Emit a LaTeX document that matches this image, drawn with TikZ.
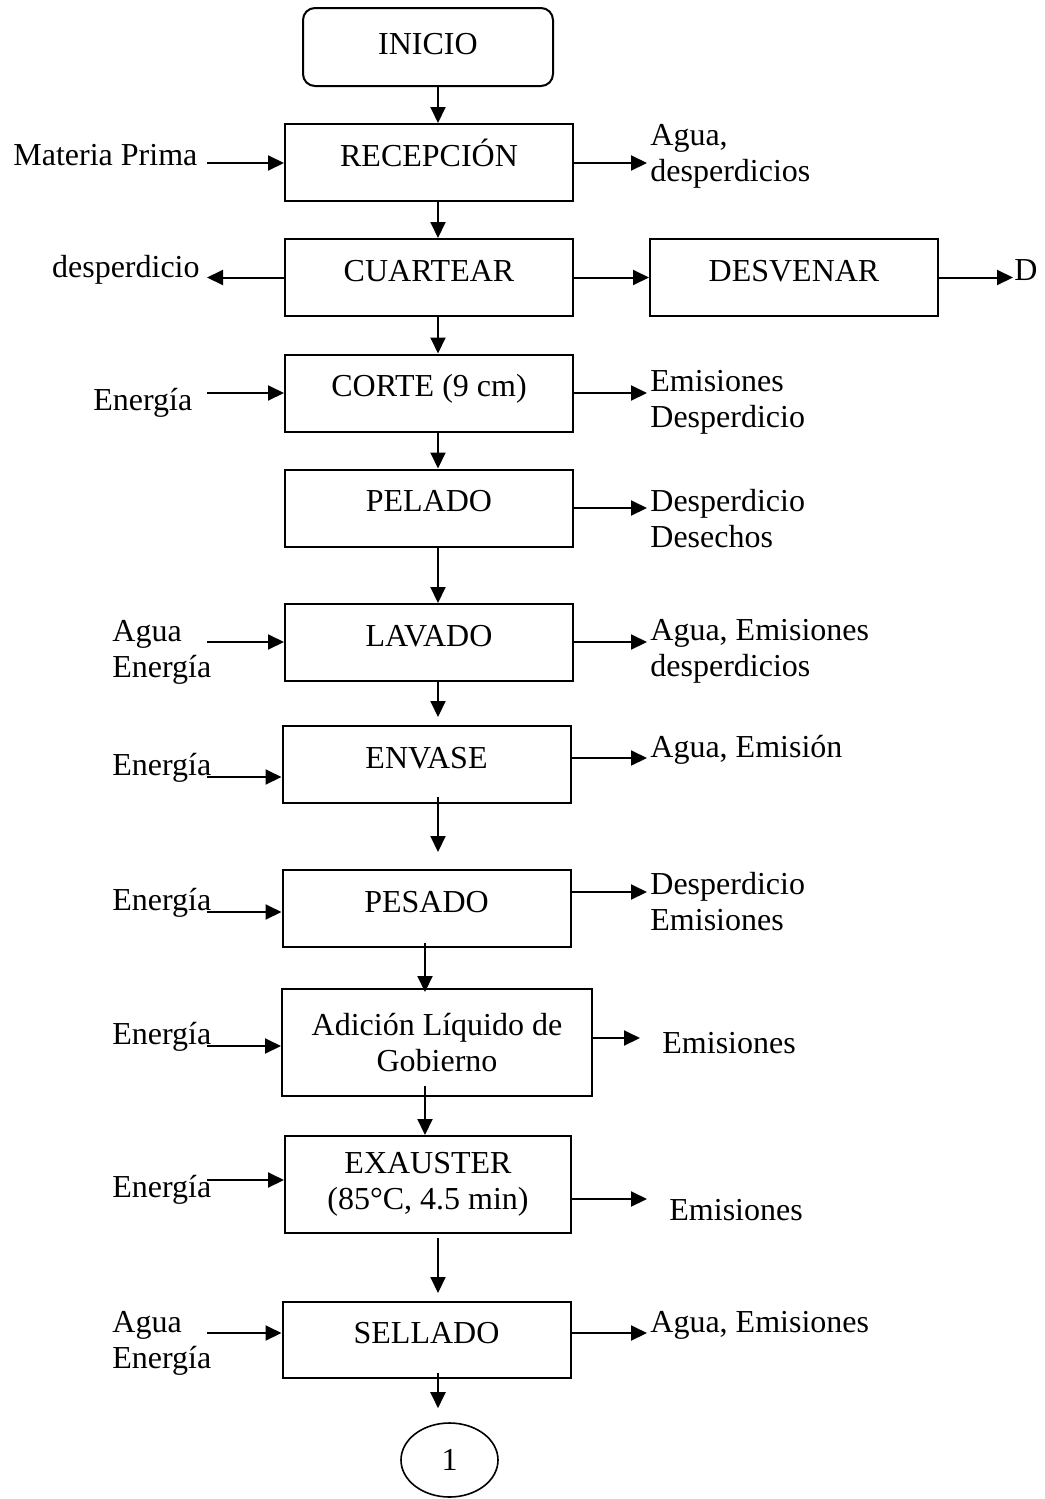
\documentclass[tikz,border=0pt]{standalone}
\usepackage{fontspec}
\setmainfont{Liberation Serif}
\usepackage{tikz}
\usetikzlibrary{calc}
\usetikzlibrary{shapes.geometric}
\usetikzlibrary{arrows.meta}

\begin{document}
\begin{tikzpicture}[x=0.5pt,y=-0.5pt,
  every node/.style={font=\fontsize{16}{18}\selectfont},
  startbox/.style={draw,line width=1pt,rounded corners=6pt,minimum width=125pt,minimum height=39pt,inner sep=0pt,text height=11pt,text depth=3.4pt},
  proc/.style={draw,line width=1pt,minimum width=144pt,minimum height=38.5pt,inner sep=0pt,text height=11pt,text depth=7.4pt},
  proctwo/.style={draw,line width=1pt,align=center,inner sep=0pt},
  lab/.style={inner sep=0pt,align=left},
  flow/.style={line width=1pt,-{Triangle[length=8pt,width=7.5pt]}}]

 \useasboundingbox (0,0) rectangle (1044,1499);

 % ================================================================
 % process boxes
 % ================================================================
	\node[startbox] (inicio) at (428,47) {INICIO};
	\node[proc] (recep)  at (429,162.5) {RECEPCIÓN};
	\node[proc] (cuart)  at (429,277.5) {CUARTEAR};
	\node[proc] (desv)   at (794,277.5) {DESVENAR};
	\node[proc] (corte)  at (429,393)   {CORTE (9 cm)};
	\node[proc] (pelado) at (429,508)   {PELADO};
	\node[proc] (lavado) at (429,642.5) {LAVADO};
	\node[proc] (envase) at (426.5,764.5) {ENVASE};
	\node[proc] (pesado) at (426.5,908.5) {PESADO};
	\node[proctwo,minimum width=155pt,minimum height=53.5pt] (adic) at (437,1042.5) {Adición Líquido de\\Gobierno};
	\node[proctwo,minimum width=143pt,minimum height=48.5pt] (exau) at (428,1184.5) {EXAUSTER\\(85°C, 4.5 min)};
	\node[proc,minimum height=38pt] (sell) at (426.5,1340) {SELLADO};
	\node[draw,ellipse,line width=0.8pt,minimum width=48.5pt,minimum height=37pt,inner sep=0pt] (uno) at (449.5,1460) {1};

        % inputs (left)
        \node[lab,anchor=west] (iRecep)  at (13,155)    {Materia Prima};
        \node[lab,anchor=west] (iCorte)  at (93,403)    {Energía};
        \node[lab,anchor=west] (iLavado) at (112,652.5) {Agua\\Energía};
        \node[lab,anchor=west] (iEnvase) at (112,768)   {Energía};
        \node[lab,anchor=west] (iPesado) at (112,903)   {Energía};
        \node[lab,anchor=west] (iAdic)   at (112,1037)  {Energía};
        \node[lab,anchor=west] (iExau)   at (112,1190)  {Energía};
        \node[lab,anchor=west] (iSell)   at (112,1343)  {Agua\\Energía};

        % outputs (right)
        \node[lab,anchor=east] (oCuart)  at (200,270)   {desperdicio};
        \node[lab,anchor=west] (oDesv)   at (1014,270)  {D};
        \node[lab,anchor=west] (oRecep)  at (650,156)   {Agua,\\desperdicios};
        \node[lab,anchor=west] (oCorte)  at (650,402.5) {Emisiones\\Desperdicio};
        \node[lab,anchor=west] (oPelado) at (650,518.5) {Desperdicio\\Desechos};
        \node[lab,anchor=west] (oLavado) at (650,651.5) {Agua, Emisiones\\desperdicios};
        \node[lab,anchor=west] (oEnvase) at (650,750)   {Agua, Emisión};
        \node[lab,anchor=west] (oPesado) at (650,901.5) {Desperdicio\\Emisiones};
        \node[lab,anchor=west] (oAdic)   at (662,1043)  {Emisiones};
        \node[lab,anchor=west] (oExau)   at (669,1210)  {Emisiones};
        \node[lab,anchor=west] (oSell)   at (650,1325)  {Agua, Emisiones};

 % ================================================================
 % arrows
 % ================================================================
        % horizontal in
        \foreach \b/\y in {recep/163,corte/393,lavado/642,envase/777,pesado/912,adic/1046,exau/1180,sell/1333}{
          \coordinate (in-\b) at (207,\y);
          \draw[flow] (in-\b) -- (in-\b -| \b.west);
        }
        % horizontal out
        \foreach \b/\y in {recep/163,corte/393,pelado/508,lavado/642,envase/758,pesado/892,exau/1199,sell/1333}{
          \coordinate (out-\b) at (647,\y);
          \draw[flow] (out-\b -| \b.east) -- (out-\b);
        }
        \coordinate (out-adic) at (640,1038);
        \draw[flow] (out-adic -| adic.east) -- (out-adic);
        \coordinate (out-cuart) at (207,277.5);
        \draw[flow] (cuart.west) -- (out-cuart);
        \draw[flow] (cuart.east) -- (desv.west);
        \coordinate (out-desv) at (1013,277.5);
        \draw[flow] (desv.east) -- (out-desv);

        % vertical links
        \coordinate (sp) at (438,0);
        \coordinate (sq) at (425,0);
        \draw[flow] (sp |- inicio.south) -- (sp |- recep.north);
        \draw[flow] (sp |- recep.south) -- (sp |- cuart.north);
        \draw[flow] (sp |- cuart.south) -- (sp |- corte.north);
        \draw[flow] (sp |- corte.south) -- (sp |- pelado.north);
        \draw[flow] (sp |- pelado.south) -- (sp |- lavado.north);
        \draw[flow,shorten >=4pt] (sp |- lavado.south) -- (sp |- envase.north);
        \draw[flow,shorten <=-3.5pt,shorten >=8.5pt] (sp |- envase.south) -- (sp |- pesado.north);
        \draw[flow,shorten <=-2.5pt,shorten >=-2pt] (sq |- pesado.south) -- (sq |- adic.north);
        \draw[flow,shorten <=-5.5pt] (sq |- adic.south) -- (sq |- exau.north);
        \draw[flow,shorten <=2pt,shorten >=4pt] (sp |- exau.south) -- (sp |- sell.north);
        \draw[flow,shorten <=-3pt,shorten >=7pt] (sp |- sell.south) -- (sp |- uno.north);

\end{tikzpicture}
\end{document}
